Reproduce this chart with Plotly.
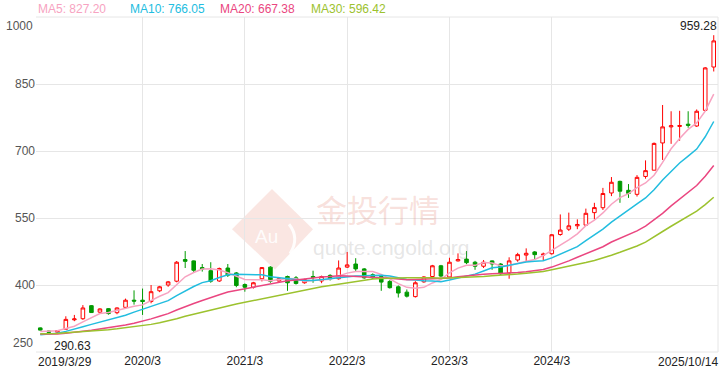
import pandas as pd
import plotly.graph_objects as go

# ---------------- data ----------------
months = [f"{p.year}/{p.month}" for p in pd.period_range("2019-03", "2025-10", freq="M")]

opens = [304, 297, 294.5, 301, 322, 324.5, 353.7, 339.2, 347, 338,
         350, 366, 366, 363, 387, 400, 408.5, 457, 454, 439,
         432, 409, 438, 427, 401, 395, 414, 440, 409, 419,
         416, 405, 419, 409, 421.5, 414, 440, 447, 436, 423,
         419, 408, 396, 384, 374, 407, 419, 443, 418, 454,
         458, 451, 442, 454, 447, 427, 456, 467, 474, 467,
         470, 513, 525, 532.5, 534, 562, 573, 606, 632, 612,
         603, 643, 657, 718, 754, 755, 760, 756, 791, 888]

highs = [305, 298, 299, 330, 333, 355, 355, 348, 348, 350,
         369.5, 388, 392, 400, 398, 409, 453.7, 476, 455, 447,
         451, 439, 447, 429, 403.5, 407, 440, 442, 418, 421,
         420, 414, 432, 421, 424, 455, 474, 460, 438, 426,
         422, 411, 399, 390, 408.6, 419.6, 445, 445, 461, 470.8,
         476, 454, 456, 455, 449, 462, 472, 482, 476, 472.5,
         514, 558, 562, 547, 571, 584, 617.4, 641.7, 633.6, 626,
         646, 679, 719, 803, 789, 790, 789, 793, 888, 959.28]

lows = [298, 290.63, 293, 300, 319, 322, 337.7, 337, 333.6, 334.5,
        347, 356, 333, 359, 384, 396, 406, 438, 427, 430,
        405, 407, 418, 395, 385, 392, 408, 405, 407, 387,
        401, 403, 405, 404, 410, 412, 438, 430.5, 414, 413.5,
        387, 392, 372, 372, 372, 405, 418, 417, 416, 452.5,
        446.7, 434, 438, 434, 423, 414, 452, 452, 458, 454,
        468, 510.4, 521, 525, 532.5, 547, 568, 599, 584, 595,
        598, 638, 657, 680, 716, 723, 752, 754, 789, 878]

closes = [299, 294, 298, 323, 324, 348.6, 338.3, 346.4, 336, 348.6,
          366, 364, 363, 385, 396, 407, 451, 453, 433, 435.7,
          408.5, 437, 422, 399, 395, 405, 439, 408.5, 414, 405,
          403.5, 412, 417, 419, 414, 438, 445, 436, 416, 416,
          406.5, 394, 382, 375, 405, 418, 443, 420, 451, 457,
          450, 442, 451, 447, 425, 454, 468, 471, 468, 469,
          512.5, 523, 532.5, 535.5, 560.5, 573.3, 604.8, 630, 610, 605,
          641, 656, 717, 754, 756.5, 757, 757.5, 789, 886, 946.5]

# closes before the visible window (Oct 2016 - Feb 2019), used only for the moving averages
prior_closes = [294, 286, 282, 290, 296, 295, 302, 296, 293, 294,
                299, 294, 291, 292, 290, 293, 290, 290, 291, 287,
                282, 278, 280, 280, 288, 286, 296, 300, 298]

ma_periods = [5, 10, 20, 30]
ma_last_values = ["827.20", "766.05", "667.38", "596.42"]
ma_colors = ["#f7a3c1", "#22bddf", "#ea4680", "#9cc22e"]

x_tick_months = ["2020/3", "2021/3", "2022/3", "2023/3", "2024/3"]
first_label = "2019/3/29"
last_label = "2025/10/14"
y_ticks = [250, 400, 550, 700, 850, 1000]

# ---------------- figure ----------------
FONT = "Liberation Sans, Arial, sans-serif"
GRID = "#e6e6e6"

fig = go.Figure()

fig.add_trace(go.Candlestick(
    x=months, open=opens, high=highs, low=lows, close=closes,
    increasing=dict(line=dict(color="#ff0000", width=1), fillcolor="#ffffff"),
    decreasing=dict(line=dict(color="#009a00", width=1), fillcolor="#009a00"),
    whiskerwidth=0, showlegend=False, hoverinfo="skip",
))

all_closes = pd.Series(prior_closes + closes)
n_prior = len(prior_closes)
for n, col in zip(ma_periods, ma_colors):
    ma = all_closes.rolling(n, min_periods=1).mean().iloc[n_prior:].tolist()
    fig.add_trace(go.Scatter(x=months, y=ma, mode="lines",
                             line=dict(color=col, width=1.5),
                             showlegend=False, hoverinfo="skip"))

annotations = []
# MA legend
legend_x = [36, 128, 218, 309]
for n, val, col, px in zip(ma_periods, ma_last_values, ma_colors, legend_x):
    annotations.append(dict(
        text=f"MA{n}: {val}", xref="paper", yref="paper",
        x=(px - 36) / 682, y=1, xanchor="left", yanchor="middle", yshift=8,
        showarrow=False, font=dict(family=FONT, size=12, color=col)))

# y edge labels
annotations.append(dict(text=str(y_ticks[-1]), xref="paper", yref="y", x=0, y=y_ticks[-1],
                        xanchor="right", yanchor="top", xshift=-1, showarrow=False,
                        font=dict(family=FONT, size=12, color="#555555")))
annotations.append(dict(text=str(y_ticks[0]), xref="paper", yref="y", x=0, y=y_ticks[0],
                        xanchor="right", yanchor="bottom", xshift=-1, showarrow=False,
                        font=dict(family=FONT, size=12, color="#555555")))
# x edge labels
annotations.append(dict(text=first_label, xref="paper", yref="paper", x=0, y=0,
                        xanchor="left", yanchor="top", yshift=-1, showarrow=False,
                        font=dict(family=FONT, size=12, color="#222222")))
annotations.append(dict(text=last_label, xref="paper", yref="paper", x=1, y=0,
                        xanchor="right", yanchor="top", xshift=2, yshift=-1, showarrow=False,
                        font=dict(family=FONT, size=12, color="#222222")))
# max / min labels
i_max = highs.index(max(highs))
i_min = lows.index(min(lows))
annotations.append(dict(text=f"{max(highs):.2f}", x=months[i_max], y=max(highs),
                        xanchor="right", yanchor="bottom", xshift=5, yshift=0,
                        showarrow=False, font=dict(family=FONT, size=12, color="#222222")))
annotations.append(dict(text=f"{min(lows):.2f}", x=months[i_min], y=min(lows),
                        xanchor="left", yanchor="top", xshift=3, yshift=-3,
                        showarrow=False, font=dict(family=FONT, size=12, color="#222222")))

# watermark
annotations.append(dict(text="金投行情", xref="paper", yref="paper",
                        x=(378 - 36) / 682, y=(358 - 212) / 341,
                        xanchor="center", yanchor="middle", showarrow=False,
                        font=dict(family="Noto Sans CJK SC", size=31, color="rgba(232,150,135,0.30)")))
annotations.append(dict(text="quote.cngold.org", xref="paper", yref="paper",
                        x=(391 - 36) / 682, y=(358 - 252) / 341,
                        xanchor="center", yanchor="middle", showarrow=False,
                        font=dict(family=FONT, size=21, color="rgba(170,170,170,0.30)")))
annotations.append(dict(text="Au", xref="paper", yref="paper",
                        x=(266 - 36) / 682, y=(358 - 240) / 341,
                        xanchor="center", yanchor="middle", showarrow=False,
                        font=dict(family=FONT, size=19, color="rgba(255,255,255,0.9)")))

def px2paper(px, py):
    return (px - 36) / 682, (358 - py) / 341

dpts = [px2paper(272, 192), px2paper(313, 233), px2paper(275, 274), px2paper(232, 233)]
diamond = "M " + " L ".join(f"{a:.4f},{b:.4f}" for a, b in dpts) + " Z"
a1 = px2paper(289, 228); a2 = px2paper(300, 242); a3 = px2paper(290, 258)
arc = f"M {a1[0]:.4f},{a1[1]:.4f} Q {a2[0]:.4f},{a2[1]:.4f} {a3[0]:.4f},{a3[1]:.4f}"

shapes = [
    dict(type="path", path=diamond, xref="paper", yref="paper", layer="below",
         fillcolor="rgba(236,165,150,0.28)", line=dict(width=0)),
    dict(type="path", path=arc, xref="paper", yref="paper", layer="below",
         line=dict(color="rgba(255,255,255,0.9)", width=3)),
    dict(type="line", xref="paper", yref="paper", x0=1, x1=1, y0=0, y1=1,
         line=dict(color=GRID, width=1), layer="below"),
    dict(type="line", xref="paper", yref="paper", x0=0, x1=1, y0=1, y1=1,
         line=dict(color=GRID, width=1), layer="below"),
    dict(type="line", xref="paper", yref="paper", x0=0, x1=1, y0=0, y1=0,
         line=dict(color=GRID, width=1), layer="below"),
]

fig.update_layout(
    width=724, height=374,
    margin=dict(l=36, r=6, t=17, b=16),
    paper_bgcolor="#ffffff", plot_bgcolor="#ffffff",
    boxgap=0.4,
    showlegend=False,
    annotations=annotations,
    shapes=shapes,
    xaxis=dict(type="category", range=[-0.5, len(months) - 0.5],
               tickvals=x_tick_months, ticktext=x_tick_months,
               showgrid=True, gridcolor=GRID, gridwidth=1,
               zeroline=False, showline=False, ticks="",
               tickfont=dict(family=FONT, size=12, color="#222222"),
               rangeslider=dict(visible=False), fixedrange=True),
    yaxis=dict(range=[y_ticks[0], y_ticks[-1]], tickvals=y_ticks,
               ticktext=[""] + [str(v) for v in y_ticks[1:-1]] + [""],
               showgrid=True, gridcolor=GRID, gridwidth=1,
               zeroline=False, showline=False, ticks="",
               tickfont=dict(family=FONT, size=12, color="#555555"),
               fixedrange=True),
)

fig.write_html("out.html", config={"displayModeBar": False},
               post_script="document.body.style.margin='0';document.body.style.overflow='hidden';")
